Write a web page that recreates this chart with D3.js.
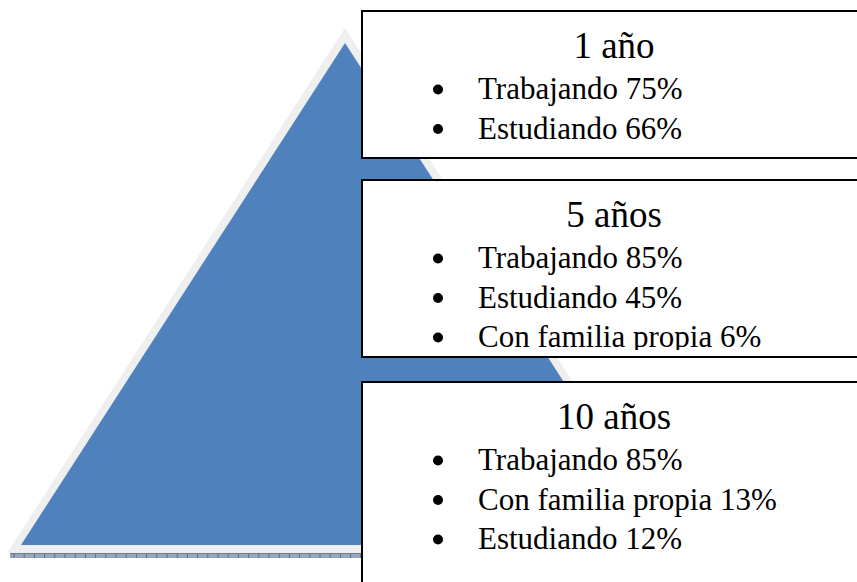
<!DOCTYPE html>
<html><head><meta charset="utf-8">
<script src="https://cdn.jsdelivr.net/npm/d3@7"></script>
<style>html,body{margin:0;padding:0;background:#fff;overflow:hidden}</style>
</head><body>
<script>
// Data
const titles = ["1 año", "5 años", "10 años"];
const items = [
  ["Trabajando 75%", "Estudiando 66%"],
  ["Trabajando 85%", "Estudiando 45%", "Con familia propia 6%"],
  ["Trabajando 85%", "Con familia propia 13%", "Estudiando 12%"]
];
const boxTop = [11, 180, 382];
const boxBottom = [158, 357, 600];

const W = 857, H = 582;
const svg = d3.select("body").append("svg").attr("width", W).attr("height", H);

// pyramid geometry via scales
const py = d3.scaleLinear().domain([0, 1]).range([43, 545]);   // 0 = apex, 1 = base (blue)
const halfW = d3.scaleLinear().domain([0, 1]).range([0, 324]);
const cx = 345;
const pyO = d3.scaleLinear().domain([0, 1]).range([28, 553]);
const halfWO = d3.scaleLinear().domain([0, 1]).range([0, 338]);

const line = d3.line();
svg.append("path")
  .attr("d", line([[cx, pyO(0)], [cx - halfWO(1), pyO(1)], [cx + halfWO(1), pyO(1)]]) + "Z")
  .attr("fill", "#efefef");
svg.append("path")
  .attr("d", line([[cx, py(0)], [cx - halfW(1), py(1)], [cx + halfW(1), py(1)]]) + "Z")
  .attr("fill", "#4f81bd");

// bottom textured band
const band = svg.append("g");
band.append("rect").attr("x", 10).attr("y", 553).attr("width", 680).attr("height", 5).attr("fill", "#9aa7ba");
band.append("line").attr("x1", 10).attr("x2", 690).attr("y1", 553.5).attr("y2", 553.5).attr("stroke", "#6f7f98").attr("stroke-width", 1);
band.selectAll("line.t").data(d3.range(14, 690, 10.2)).enter().append("line")
  .attr("class", "t").attr("x1", d => d).attr("x2", d => d).attr("y1", 553).attr("y2", 558)
  .attr("stroke", "#5f708a").attr("stroke-width", 1);

// boxes
const defs = svg.append("defs");
titles.forEach((t, i) => {
  const x0 = 362, x1 = 880;
  defs.append("clipPath").attr("id", "clip" + i)
    .append("rect").attr("x", x0).attr("y", boxTop[i]).attr("width", x1 - x0).attr("height", boxBottom[i] - boxTop[i] - 7);
  const g = svg.append("g");
  g.append("rect").attr("x", x0).attr("y", boxTop[i]).attr("width", x1 - x0).attr("height", boxBottom[i] - boxTop[i])
    .attr("fill", "#fff").attr("stroke", "#000").attr("stroke-width", 2);
  const tg = g.append("g").attr("clip-path", "url(#clip" + i + ")");
  tg.append("text").attr("x", 614).attr("y", boxTop[i] + 47)
    .attr("text-anchor", "middle").attr("font-family", "Liberation Serif, Times New Roman, serif")
    .attr("font-size", 37).attr("fill", "#000").text(t);
  items[i].forEach((s, j) => {
    const yb = boxTop[i] + 88 + j * 39.5;
    tg.append("circle").attr("cx", 438).attr("cy", yb - 9.5).attr("r", 5).attr("fill", "#000");
    tg.append("text").attr("x", 478).attr("y", yb)
      .attr("font-family", "Liberation Serif, Times New Roman, serif")
      .attr("font-size", 31).attr("fill", "#000").text(s);
  });
});
</script>
</body></html>
